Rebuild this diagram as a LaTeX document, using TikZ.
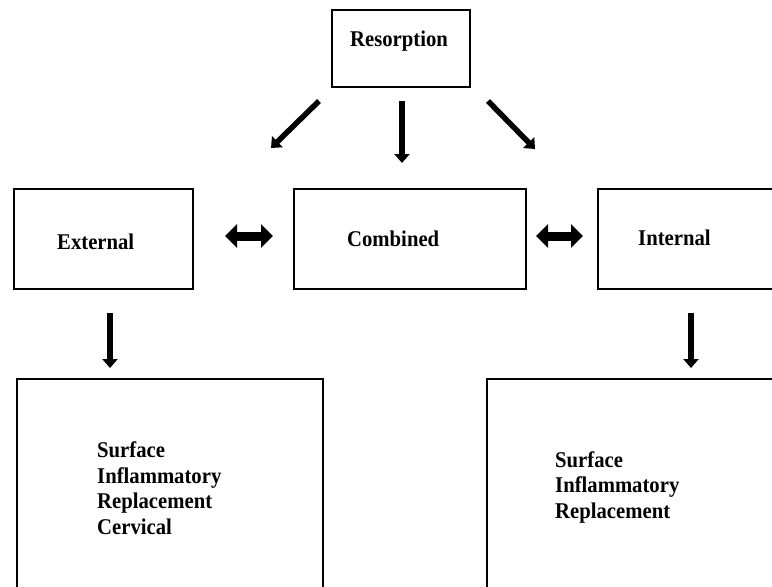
\documentclass[tikz,border=0pt]{standalone}
\usepackage{fontspec}
\setmainfont{Liberation Serif}[FakeStretch=0.92]
\usetikzlibrary{arrows.meta}
\begin{document}
\begin{tikzpicture}[x=1pt,y=-1pt,
  box/.style={draw=black,line width=1.7pt,rectangle,inner sep=0pt,outer sep=0pt},
  lbl/.style={anchor=base west,inner sep=0pt,font=\fontsize{22.5}{26}\selectfont\bfseries},
  thinarrow/.style={line width=5.5pt,-{Triangle[length=9pt,width=15pt]}},
  dblarrow/.style={line width=9pt,{Triangle[length=12pt,width=23pt]}-{Triangle[length=12pt,width=23pt]}}]
\useasboundingbox (0,0) rectangle (772,587);
\clip (0,0) rectangle (772,587);
% boxes
\node[box,minimum width=138pt,minimum height=77pt] (res) at (401,48.5) {};
\node[box,minimum width=179pt,minimum height=100pt] (ext) at (103.5,239) {};
\node[box,minimum width=232pt,minimum height=100pt] (comb) at (410,239) {};
\node[box,minimum width=220pt,minimum height=100pt] (int) at (708,239) {};
\node[box,minimum width=306pt,minimum height=260pt] (bl) at (170,509) {};
\node[box,minimum width=320pt,minimum height=260pt] (br) at (647,509) {};
% labels
\node[lbl] (tres) at (350,46) {Resorption};
\node[lbl] (text) at (57,249) {External};
\node[lbl] (tcomb) at (347,246) {Combined};
\node[lbl] (tint) at (638,245) {Internal};
\node[lbl] (bl1) at (97,457) {Surface};
\node[lbl] (bl2) at (97,483) {Inflammatory};
\node[lbl] (bl3) at (97,508) {Replacement};
\node[lbl] (bl4) at (97,534) {Cervical};
\node[lbl] (br1) at (555,467) {Surface};
\node[lbl] (br2) at (555,492) {Inflammatory};
\node[lbl] (br3) at (555,518) {Replacement};
% arrow endpoints
\coordinate (a1s) at (319,101); \coordinate (a1e) at (271,148);
\coordinate (a2s) at (402,101); \coordinate (a2e) at (402,163);
\coordinate (a3s) at (488,101); \coordinate (a3e) at (535,149);
\coordinate (d1s) at (225,236); \coordinate (d1e) at (273,236);
\coordinate (d2s) at (536,236); \coordinate (d2e) at (583,236);
\coordinate (v1s) at (110,313); \coordinate (v1e) at (110,368);
\coordinate (v2s) at (691,313); \coordinate (v2e) at (691,368);
% arrows
\draw[thinarrow] (a1s) -- (a1e);
\draw[thinarrow] (a2s) -- (a2e);
\draw[thinarrow] (a3s) -- (a3e);
\draw[dblarrow] (d1s) -- (d1e);
\draw[dblarrow] (d2s) -- (d2e);
\draw[thinarrow] (v1s) -- (v1e);
\draw[thinarrow] (v2s) -- (v2e);
\end{tikzpicture}
\end{document}
